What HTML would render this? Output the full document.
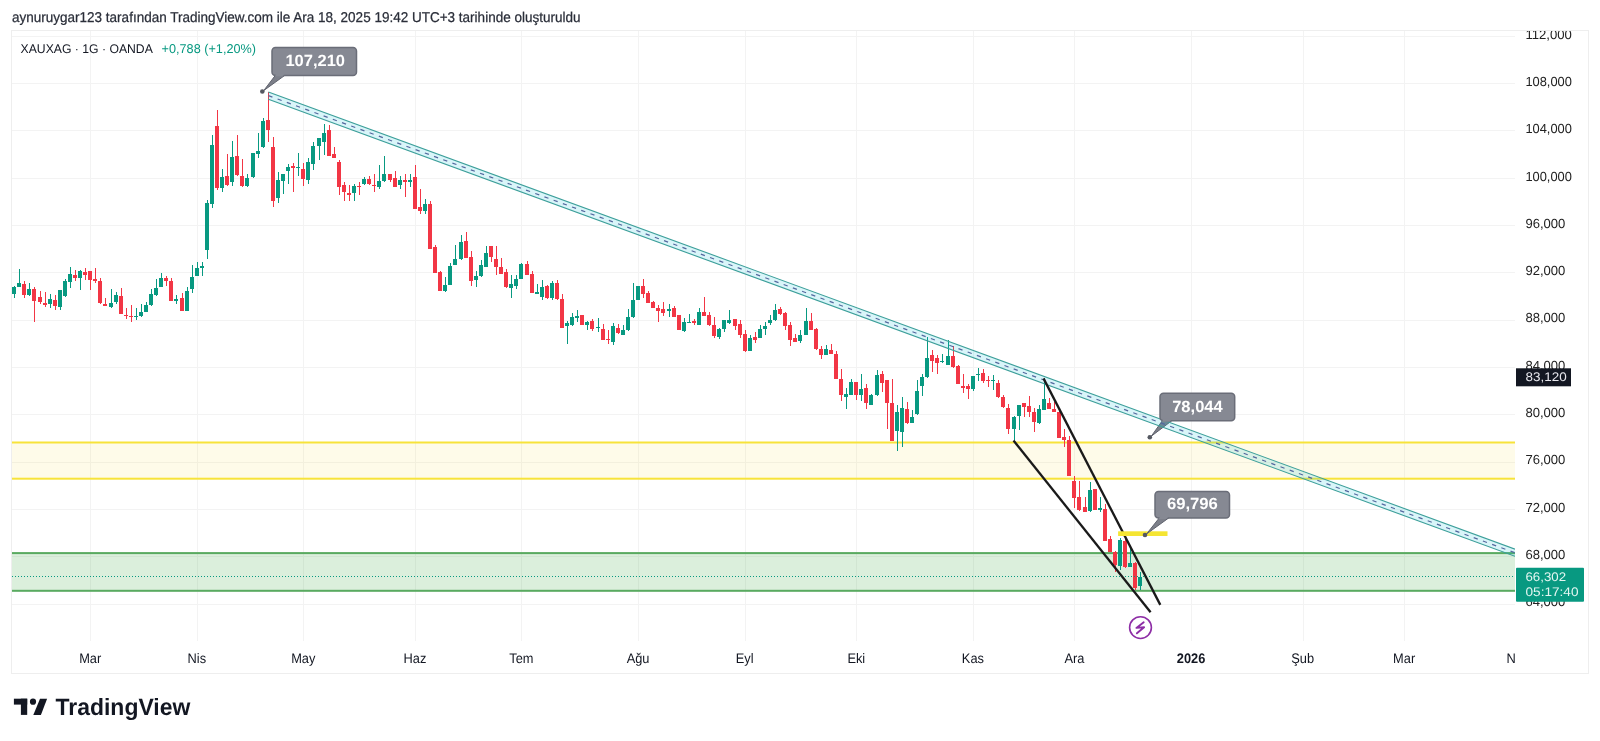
<!DOCTYPE html>
<html><head><meta charset="utf-8"><style>
html,body{margin:0;padding:0;background:#fff;width:1600px;height:741px;overflow:hidden}
svg{display:block;will-change:transform} text{text-rendering:geometricPrecision}
</style></head><body>
<svg width="1600" height="741" viewBox="0 0 1600 741">
<defs><clipPath id="axisclip"><rect x="1515" y="31" width="72" height="610"/></clipPath><clipPath id="paneclip"><rect x="12" y="31" width="1503" height="650"/></clipPath></defs>
<rect x="0" y="0" width="1600" height="741" fill="#fff"/>
<text id="hdr" x="12" y="22.2" font-family='"Liberation Sans", "DejaVu Sans", sans-serif' font-size="14.2" fill="#2a2e39" stroke="#2a2e39" stroke-width="0.25" textLength="568.5" lengthAdjust="spacingAndGlyphs">aynuruygar123 tarafından TradingView.com ile Ara 18, 2025 19:42 UTC+3 tarihinde oluşturuldu</text>
<rect x="11.5" y="30.5" width="1577" height="643" fill="none" stroke="#eeeeee" stroke-width="1"/>
<g clip-path="url(#paneclip)"><g stroke="#f3f3f3" stroke-width="1"><line x1="12" y1="604.5" x2="1515" y2="604.5"/><line x1="12" y1="556.5" x2="1515" y2="556.5"/><line x1="12" y1="509.5" x2="1515" y2="509.5"/><line x1="12" y1="462.5" x2="1515" y2="462.5"/><line x1="12" y1="414.5" x2="1515" y2="414.5"/><line x1="12" y1="367.5" x2="1515" y2="367.5"/><line x1="12" y1="320.5" x2="1515" y2="320.5"/><line x1="12" y1="272.5" x2="1515" y2="272.5"/><line x1="12" y1="225.5" x2="1515" y2="225.5"/><line x1="12" y1="178.5" x2="1515" y2="178.5"/><line x1="12" y1="130.5" x2="1515" y2="130.5"/><line x1="12" y1="83.5" x2="1515" y2="83.5"/><line x1="12" y1="36.5" x2="1515" y2="36.5"/><line x1="90.5" y1="31" x2="90.5" y2="641"/><line x1="197.5" y1="31" x2="197.5" y2="641"/><line x1="303.5" y1="31" x2="303.5" y2="641"/><line x1="415.5" y1="31" x2="415.5" y2="641"/><line x1="521.5" y1="31" x2="521.5" y2="641"/><line x1="638.5" y1="31" x2="638.5" y2="641"/><line x1="745.5" y1="31" x2="745.5" y2="641"/><line x1="856.5" y1="31" x2="856.5" y2="641"/><line x1="973.5" y1="31" x2="973.5" y2="641"/><line x1="1074.5" y1="31" x2="1074.5" y2="641"/><line x1="1191.5" y1="31" x2="1191.5" y2="641"/><line x1="1303.5" y1="31" x2="1303.5" y2="641"/><line x1="1404.5" y1="31" x2="1404.5" y2="641"/></g><rect x="12" y="442.5" width="1503" height="36.19999999999999" fill="#f9d923" fill-opacity="0.1"/><rect x="12" y="441.5" width="1503" height="2" fill="#f7e33a"/><rect x="12" y="477.7" width="1503" height="2" fill="#f7e33a"/><rect x="12" y="553.1" width="1503" height="37.69999999999993" fill="#4caf50" fill-opacity="0.2"/><rect x="12" y="552.1" width="1503" height="2" fill="#59aa60"/><rect x="12" y="589.8" width="1503" height="2" fill="#59aa60"/><g shape-rendering="crispEdges"><rect x="14" y="286" width="1" height="12" fill="#089981"/><rect x="12" y="287" width="4" height="7" fill="#089981"/><rect x="19" y="269" width="1" height="18" fill="#089981"/><rect x="17" y="283" width="4" height="4" fill="#089981"/><rect x="24" y="281" width="1" height="17" fill="#f23645"/><rect x="22" y="284" width="4" height="11" fill="#f23645"/><rect x="29" y="283" width="1" height="13" fill="#089981"/><rect x="27" y="289" width="4" height="6" fill="#089981"/><rect x="34" y="287" width="1" height="35" fill="#f23645"/><rect x="32" y="289" width="4" height="12" fill="#f23645"/><rect x="40" y="291" width="1" height="13" fill="#f23645"/><rect x="38" y="297" width="4" height="5" fill="#f23645"/><rect x="45" y="292" width="1" height="15" fill="#f23645"/><rect x="43" y="303" width="4" height="2" fill="#f23645"/><rect x="50" y="294" width="1" height="14" fill="#089981"/><rect x="48" y="299" width="4" height="5" fill="#089981"/><rect x="55" y="295" width="1" height="15" fill="#f23645"/><rect x="53" y="300" width="4" height="6" fill="#f23645"/><rect x="60" y="290" width="1" height="20" fill="#089981"/><rect x="58" y="290" width="4" height="17" fill="#089981"/><rect x="65" y="279" width="1" height="18" fill="#089981"/><rect x="63" y="281" width="4" height="15" fill="#089981"/><rect x="70" y="267" width="1" height="21" fill="#089981"/><rect x="68" y="274" width="4" height="8" fill="#089981"/><rect x="75" y="270" width="1" height="11" fill="#f23645"/><rect x="73" y="275" width="4" height="3" fill="#f23645"/><rect x="80" y="270" width="1" height="20" fill="#089981"/><rect x="78" y="271" width="4" height="7" fill="#089981"/><rect x="85" y="268" width="1" height="12" fill="#f23645"/><rect x="83" y="272" width="4" height="3" fill="#f23645"/><rect x="90" y="271" width="1" height="19" fill="#f23645"/><rect x="88" y="271" width="4" height="9" fill="#f23645"/><rect x="95" y="268" width="1" height="15" fill="#f23645"/><rect x="93" y="279" width="4" height="2" fill="#f23645"/><rect x="100" y="278" width="1" height="26" fill="#f23645"/><rect x="98" y="281" width="4" height="22" fill="#f23645"/><rect x="105" y="298" width="1" height="8" fill="#f23645"/><rect x="103" y="304" width="4" height="2" fill="#f23645"/><rect x="111" y="289" width="1" height="19" fill="#089981"/><rect x="109" y="303" width="4" height="4" fill="#089981"/><rect x="116" y="292" width="1" height="12" fill="#089981"/><rect x="114" y="295" width="4" height="7" fill="#089981"/><rect x="121" y="288" width="1" height="26" fill="#f23645"/><rect x="119" y="296" width="4" height="18" fill="#f23645"/><rect x="126" y="308" width="1" height="11" fill="#f23645"/><rect x="124" y="315" width="4" height="1" fill="#f23645"/><rect x="131" y="305" width="1" height="17" fill="#f23645"/><rect x="129" y="316" width="4" height="1" fill="#f23645"/><rect x="136" y="308" width="1" height="12" fill="#089981"/><rect x="134" y="316" width="4" height="1" fill="#089981"/><rect x="141" y="304" width="1" height="13" fill="#089981"/><rect x="139" y="312" width="4" height="4" fill="#089981"/><rect x="146" y="302" width="1" height="10" fill="#089981"/><rect x="144" y="305" width="4" height="7" fill="#089981"/><rect x="151" y="289" width="1" height="17" fill="#089981"/><rect x="149" y="294" width="4" height="11" fill="#089981"/><rect x="156" y="279" width="1" height="17" fill="#089981"/><rect x="154" y="288" width="4" height="7" fill="#089981"/><rect x="161" y="273" width="1" height="14" fill="#089981"/><rect x="159" y="278" width="4" height="9" fill="#089981"/><rect x="166" y="276" width="1" height="10" fill="#f23645"/><rect x="164" y="278" width="4" height="3" fill="#f23645"/><rect x="171" y="278" width="1" height="23" fill="#f23645"/><rect x="169" y="281" width="4" height="20" fill="#f23645"/><rect x="176" y="295" width="1" height="9" fill="#089981"/><rect x="174" y="299" width="4" height="2" fill="#089981"/><rect x="182" y="293" width="1" height="18" fill="#f23645"/><rect x="180" y="298" width="4" height="13" fill="#f23645"/><rect x="187" y="287" width="1" height="24" fill="#089981"/><rect x="185" y="291" width="4" height="20" fill="#089981"/><rect x="192" y="265" width="1" height="28" fill="#089981"/><rect x="190" y="277" width="4" height="12" fill="#089981"/><rect x="197" y="262" width="1" height="14" fill="#089981"/><rect x="195" y="268" width="4" height="8" fill="#089981"/><rect x="202" y="262" width="1" height="14" fill="#089981"/><rect x="200" y="266" width="4" height="2" fill="#089981"/><rect x="207" y="200" width="1" height="59" fill="#089981"/><rect x="205" y="203" width="4" height="47" fill="#089981"/><rect x="212" y="135" width="1" height="73" fill="#089981"/><rect x="210" y="145" width="4" height="59" fill="#089981"/><rect x="217" y="110" width="1" height="80" fill="#f23645"/><rect x="215" y="126" width="4" height="62" fill="#f23645"/><rect x="222" y="169" width="1" height="23" fill="#089981"/><rect x="220" y="177" width="4" height="11" fill="#089981"/><rect x="227" y="154" width="1" height="32" fill="#f23645"/><rect x="225" y="176" width="4" height="9" fill="#f23645"/><rect x="232" y="141" width="1" height="45" fill="#089981"/><rect x="230" y="157" width="4" height="25" fill="#089981"/><rect x="237" y="135" width="1" height="41" fill="#f23645"/><rect x="235" y="156" width="4" height="19" fill="#f23645"/><rect x="242" y="159" width="1" height="28" fill="#f23645"/><rect x="240" y="176" width="4" height="10" fill="#f23645"/><rect x="247" y="174" width="1" height="13" fill="#089981"/><rect x="245" y="178" width="4" height="8" fill="#089981"/><rect x="253" y="153" width="1" height="25" fill="#089981"/><rect x="251" y="153" width="4" height="24" fill="#089981"/><rect x="258" y="133" width="1" height="25" fill="#089981"/><rect x="256" y="151" width="4" height="3" fill="#089981"/><rect x="263" y="118" width="1" height="30" fill="#089981"/><rect x="261" y="121" width="4" height="26" fill="#089981"/><rect x="268" y="92" width="1" height="50" fill="#f23645"/><rect x="266" y="120" width="4" height="10" fill="#f23645"/><rect x="273" y="137" width="1" height="70" fill="#f23645"/><rect x="271" y="147" width="4" height="54" fill="#f23645"/><rect x="278" y="172" width="1" height="31" fill="#089981"/><rect x="276" y="180" width="4" height="18" fill="#089981"/><rect x="283" y="174" width="1" height="20" fill="#089981"/><rect x="281" y="174" width="4" height="7" fill="#089981"/><rect x="288" y="164" width="1" height="20" fill="#089981"/><rect x="286" y="167" width="4" height="4" fill="#089981"/><rect x="293" y="163" width="1" height="29" fill="#f23645"/><rect x="291" y="166" width="4" height="2" fill="#f23645"/><rect x="298" y="153" width="1" height="23" fill="#089981"/><rect x="296" y="167" width="4" height="1" fill="#089981"/><rect x="303" y="163" width="1" height="23" fill="#f23645"/><rect x="301" y="169" width="4" height="10" fill="#f23645"/><rect x="308" y="158" width="1" height="26" fill="#089981"/><rect x="306" y="162" width="4" height="18" fill="#089981"/><rect x="313" y="142" width="1" height="28" fill="#089981"/><rect x="311" y="146" width="4" height="18" fill="#089981"/><rect x="319" y="138" width="1" height="22" fill="#089981"/><rect x="317" y="138" width="4" height="8" fill="#089981"/><rect x="324" y="124" width="1" height="31" fill="#089981"/><rect x="322" y="133" width="4" height="9" fill="#089981"/><rect x="329" y="125" width="1" height="31" fill="#f23645"/><rect x="327" y="130" width="4" height="26" fill="#f23645"/><rect x="334" y="147" width="1" height="11" fill="#f23645"/><rect x="332" y="154" width="4" height="4" fill="#f23645"/><rect x="339" y="160" width="1" height="35" fill="#f23645"/><rect x="337" y="162" width="4" height="25" fill="#f23645"/><rect x="344" y="182" width="1" height="19" fill="#f23645"/><rect x="342" y="185" width="4" height="7" fill="#f23645"/><rect x="349" y="185" width="1" height="16" fill="#f23645"/><rect x="347" y="193" width="4" height="2" fill="#f23645"/><rect x="354" y="184" width="1" height="17" fill="#089981"/><rect x="352" y="186" width="4" height="7" fill="#089981"/><rect x="359" y="182" width="1" height="13" fill="#f23645"/><rect x="357" y="186" width="4" height="1" fill="#f23645"/><rect x="364" y="177" width="1" height="8" fill="#089981"/><rect x="362" y="179" width="4" height="5" fill="#089981"/><rect x="369" y="176" width="1" height="9" fill="#f23645"/><rect x="367" y="179" width="4" height="5" fill="#f23645"/><rect x="374" y="174" width="1" height="18" fill="#f23645"/><rect x="372" y="185" width="4" height="1" fill="#f23645"/><rect x="379" y="165" width="1" height="24" fill="#089981"/><rect x="377" y="181" width="4" height="6" fill="#089981"/><rect x="384" y="156" width="1" height="26" fill="#089981"/><rect x="382" y="174" width="4" height="7" fill="#089981"/><rect x="390" y="174" width="1" height="8" fill="#f23645"/><rect x="388" y="174" width="4" height="6" fill="#f23645"/><rect x="395" y="171" width="1" height="16" fill="#f23645"/><rect x="393" y="178" width="4" height="9" fill="#f23645"/><rect x="400" y="176" width="1" height="13" fill="#089981"/><rect x="398" y="180" width="4" height="5" fill="#089981"/><rect x="405" y="174" width="1" height="23" fill="#f23645"/><rect x="403" y="180" width="4" height="2" fill="#f23645"/><rect x="410" y="174" width="1" height="13" fill="#089981"/><rect x="408" y="180" width="4" height="2" fill="#089981"/><rect x="415" y="165" width="1" height="44" fill="#f23645"/><rect x="413" y="177" width="4" height="32" fill="#f23645"/><rect x="420" y="189" width="1" height="25" fill="#f23645"/><rect x="418" y="207" width="4" height="4" fill="#f23645"/><rect x="425" y="199" width="1" height="15" fill="#089981"/><rect x="423" y="204" width="4" height="7" fill="#089981"/><rect x="430" y="201" width="1" height="48" fill="#f23645"/><rect x="428" y="204" width="4" height="45" fill="#f23645"/><rect x="435" y="245" width="1" height="28" fill="#f23645"/><rect x="433" y="247" width="4" height="26" fill="#f23645"/><rect x="440" y="271" width="1" height="20" fill="#f23645"/><rect x="438" y="272" width="4" height="19" fill="#f23645"/><rect x="445" y="277" width="1" height="15" fill="#089981"/><rect x="443" y="285" width="4" height="6" fill="#089981"/><rect x="450" y="263" width="1" height="22" fill="#089981"/><rect x="448" y="266" width="4" height="19" fill="#089981"/><rect x="455" y="245" width="1" height="20" fill="#089981"/><rect x="453" y="259" width="4" height="6" fill="#089981"/><rect x="461" y="235" width="1" height="25" fill="#089981"/><rect x="459" y="242" width="4" height="17" fill="#089981"/><rect x="466" y="232" width="1" height="26" fill="#f23645"/><rect x="464" y="241" width="4" height="17" fill="#f23645"/><rect x="471" y="251" width="1" height="35" fill="#f23645"/><rect x="469" y="257" width="4" height="24" fill="#f23645"/><rect x="476" y="271" width="1" height="16" fill="#089981"/><rect x="474" y="276" width="4" height="4" fill="#089981"/><rect x="481" y="260" width="1" height="17" fill="#089981"/><rect x="479" y="265" width="4" height="11" fill="#089981"/><rect x="486" y="246" width="1" height="21" fill="#089981"/><rect x="484" y="253" width="4" height="14" fill="#089981"/><rect x="491" y="246" width="1" height="16" fill="#f23645"/><rect x="489" y="246" width="4" height="11" fill="#f23645"/><rect x="496" y="246" width="1" height="29" fill="#f23645"/><rect x="494" y="259" width="4" height="8" fill="#f23645"/><rect x="501" y="258" width="1" height="16" fill="#f23645"/><rect x="499" y="267" width="4" height="7" fill="#f23645"/><rect x="506" y="269" width="1" height="19" fill="#f23645"/><rect x="504" y="272" width="4" height="15" fill="#f23645"/><rect x="511" y="275" width="1" height="23" fill="#089981"/><rect x="509" y="284" width="4" height="4" fill="#089981"/><rect x="516" y="275" width="1" height="14" fill="#089981"/><rect x="514" y="279" width="4" height="7" fill="#089981"/><rect x="521" y="263" width="1" height="16" fill="#089981"/><rect x="519" y="264" width="4" height="15" fill="#089981"/><rect x="527" y="261" width="1" height="14" fill="#f23645"/><rect x="525" y="264" width="4" height="11" fill="#f23645"/><rect x="532" y="271" width="1" height="22" fill="#f23645"/><rect x="530" y="274" width="4" height="19" fill="#f23645"/><rect x="537" y="284" width="1" height="10" fill="#089981"/><rect x="535" y="292" width="4" height="2" fill="#089981"/><rect x="542" y="280" width="1" height="20" fill="#089981"/><rect x="540" y="287" width="4" height="10" fill="#089981"/><rect x="547" y="285" width="1" height="14" fill="#f23645"/><rect x="545" y="286" width="4" height="12" fill="#f23645"/><rect x="552" y="281" width="1" height="19" fill="#089981"/><rect x="550" y="283" width="4" height="15" fill="#089981"/><rect x="557" y="280" width="1" height="20" fill="#f23645"/><rect x="555" y="283" width="4" height="16" fill="#f23645"/><rect x="562" y="294" width="1" height="34" fill="#f23645"/><rect x="560" y="299" width="4" height="29" fill="#f23645"/><rect x="567" y="321" width="1" height="23" fill="#089981"/><rect x="565" y="323" width="4" height="3" fill="#089981"/><rect x="572" y="313" width="1" height="13" fill="#089981"/><rect x="570" y="317" width="4" height="8" fill="#089981"/><rect x="577" y="310" width="1" height="12" fill="#089981"/><rect x="575" y="316" width="4" height="2" fill="#089981"/><rect x="582" y="315" width="1" height="10" fill="#f23645"/><rect x="580" y="315" width="4" height="10" fill="#f23645"/><rect x="587" y="321" width="1" height="9" fill="#089981"/><rect x="585" y="322" width="4" height="3" fill="#089981"/><rect x="592" y="319" width="1" height="12" fill="#f23645"/><rect x="590" y="321" width="4" height="8" fill="#f23645"/><rect x="598" y="318" width="1" height="14" fill="#089981"/><rect x="596" y="327" width="4" height="1" fill="#089981"/><rect x="603" y="324" width="1" height="16" fill="#f23645"/><rect x="601" y="329" width="4" height="11" fill="#f23645"/><rect x="608" y="330" width="1" height="14" fill="#f23645"/><rect x="606" y="339" width="4" height="1" fill="#f23645"/><rect x="613" y="323" width="1" height="22" fill="#089981"/><rect x="611" y="326" width="4" height="16" fill="#089981"/><rect x="618" y="324" width="1" height="10" fill="#f23645"/><rect x="616" y="328" width="4" height="5" fill="#f23645"/><rect x="623" y="325" width="1" height="10" fill="#089981"/><rect x="621" y="330" width="4" height="5" fill="#089981"/><rect x="628" y="309" width="1" height="22" fill="#089981"/><rect x="626" y="317" width="4" height="13" fill="#089981"/><rect x="633" y="283" width="1" height="35" fill="#089981"/><rect x="631" y="300" width="4" height="17" fill="#089981"/><rect x="638" y="286" width="1" height="14" fill="#089981"/><rect x="636" y="286" width="4" height="14" fill="#089981"/><rect x="643" y="279" width="1" height="19" fill="#f23645"/><rect x="641" y="286" width="4" height="8" fill="#f23645"/><rect x="648" y="291" width="1" height="12" fill="#f23645"/><rect x="646" y="293" width="4" height="10" fill="#f23645"/><rect x="653" y="301" width="1" height="7" fill="#f23645"/><rect x="651" y="302" width="4" height="6" fill="#f23645"/><rect x="658" y="305" width="1" height="17" fill="#f23645"/><rect x="656" y="308" width="4" height="3" fill="#f23645"/><rect x="663" y="302" width="1" height="14" fill="#f23645"/><rect x="661" y="309" width="4" height="4" fill="#f23645"/><rect x="669" y="304" width="1" height="13" fill="#089981"/><rect x="667" y="309" width="4" height="2" fill="#089981"/><rect x="674" y="306" width="1" height="11" fill="#f23645"/><rect x="672" y="308" width="4" height="9" fill="#f23645"/><rect x="679" y="315" width="1" height="15" fill="#f23645"/><rect x="677" y="315" width="4" height="15" fill="#f23645"/><rect x="684" y="318" width="1" height="14" fill="#089981"/><rect x="682" y="322" width="4" height="9" fill="#089981"/><rect x="689" y="314" width="1" height="9" fill="#089981"/><rect x="687" y="322" width="4" height="1" fill="#089981"/><rect x="694" y="319" width="1" height="6" fill="#f23645"/><rect x="692" y="321" width="4" height="2" fill="#f23645"/><rect x="699" y="308" width="1" height="17" fill="#089981"/><rect x="697" y="312" width="4" height="13" fill="#089981"/><rect x="704" y="297" width="1" height="19" fill="#f23645"/><rect x="702" y="312" width="4" height="4" fill="#f23645"/><rect x="709" y="312" width="1" height="14" fill="#f23645"/><rect x="707" y="315" width="4" height="10" fill="#f23645"/><rect x="714" y="317" width="1" height="21" fill="#f23645"/><rect x="712" y="325" width="4" height="11" fill="#f23645"/><rect x="719" y="328" width="1" height="11" fill="#089981"/><rect x="717" y="329" width="4" height="8" fill="#089981"/><rect x="724" y="320" width="1" height="12" fill="#089981"/><rect x="722" y="320" width="4" height="9" fill="#089981"/><rect x="729" y="310" width="1" height="14" fill="#089981"/><rect x="727" y="320" width="4" height="3" fill="#089981"/><rect x="735" y="319" width="1" height="11" fill="#f23645"/><rect x="733" y="319" width="4" height="7" fill="#f23645"/><rect x="740" y="320" width="1" height="18" fill="#f23645"/><rect x="738" y="324" width="4" height="11" fill="#f23645"/><rect x="745" y="330" width="1" height="22" fill="#f23645"/><rect x="743" y="334" width="4" height="17" fill="#f23645"/><rect x="750" y="335" width="1" height="16" fill="#089981"/><rect x="748" y="338" width="4" height="13" fill="#089981"/><rect x="755" y="332" width="1" height="11" fill="#f23645"/><rect x="753" y="337" width="4" height="3" fill="#f23645"/><rect x="760" y="325" width="1" height="13" fill="#089981"/><rect x="758" y="329" width="4" height="9" fill="#089981"/><rect x="765" y="322" width="1" height="13" fill="#089981"/><rect x="763" y="326" width="4" height="3" fill="#089981"/><rect x="770" y="315" width="1" height="10" fill="#089981"/><rect x="768" y="320" width="4" height="3" fill="#089981"/><rect x="775" y="304" width="1" height="17" fill="#089981"/><rect x="773" y="310" width="4" height="10" fill="#089981"/><rect x="780" y="307" width="1" height="8" fill="#f23645"/><rect x="778" y="309" width="4" height="5" fill="#f23645"/><rect x="785" y="312" width="1" height="18" fill="#f23645"/><rect x="783" y="313" width="4" height="13" fill="#f23645"/><rect x="790" y="322" width="1" height="24" fill="#f23645"/><rect x="788" y="325" width="4" height="15" fill="#f23645"/><rect x="795" y="334" width="1" height="8" fill="#f23645"/><rect x="793" y="338" width="4" height="4" fill="#f23645"/><rect x="800" y="330" width="1" height="13" fill="#089981"/><rect x="798" y="335" width="4" height="6" fill="#089981"/><rect x="806" y="308" width="1" height="27" fill="#089981"/><rect x="804" y="321" width="4" height="14" fill="#089981"/><rect x="811" y="313" width="1" height="17" fill="#f23645"/><rect x="809" y="321" width="4" height="9" fill="#f23645"/><rect x="816" y="328" width="1" height="22" fill="#f23645"/><rect x="814" y="329" width="4" height="20" fill="#f23645"/><rect x="821" y="346" width="1" height="13" fill="#f23645"/><rect x="819" y="349" width="4" height="6" fill="#f23645"/><rect x="826" y="345" width="1" height="10" fill="#089981"/><rect x="824" y="349" width="4" height="6" fill="#089981"/><rect x="831" y="344" width="1" height="10" fill="#f23645"/><rect x="829" y="350" width="4" height="4" fill="#f23645"/><rect x="836" y="351" width="1" height="28" fill="#f23645"/><rect x="834" y="354" width="4" height="25" fill="#f23645"/><rect x="841" y="369" width="1" height="32" fill="#f23645"/><rect x="839" y="379" width="4" height="16" fill="#f23645"/><rect x="846" y="388" width="1" height="21" fill="#089981"/><rect x="844" y="394" width="4" height="3" fill="#089981"/><rect x="851" y="379" width="1" height="16" fill="#089981"/><rect x="849" y="382" width="4" height="13" fill="#089981"/><rect x="856" y="382" width="1" height="18" fill="#f23645"/><rect x="854" y="382" width="4" height="13" fill="#f23645"/><rect x="861" y="374" width="1" height="27" fill="#089981"/><rect x="859" y="389" width="4" height="6" fill="#089981"/><rect x="866" y="384" width="1" height="25" fill="#f23645"/><rect x="864" y="388" width="4" height="15" fill="#f23645"/><rect x="871" y="394" width="1" height="11" fill="#089981"/><rect x="869" y="395" width="4" height="10" fill="#089981"/><rect x="877" y="370" width="1" height="26" fill="#089981"/><rect x="875" y="375" width="4" height="20" fill="#089981"/><rect x="882" y="371" width="1" height="21" fill="#f23645"/><rect x="880" y="374" width="4" height="9" fill="#f23645"/><rect x="887" y="380" width="1" height="49" fill="#f23645"/><rect x="885" y="380" width="4" height="23" fill="#f23645"/><rect x="892" y="379" width="1" height="62" fill="#f23645"/><rect x="890" y="403" width="4" height="38" fill="#f23645"/><rect x="897" y="405" width="1" height="46" fill="#089981"/><rect x="895" y="412" width="4" height="19" fill="#089981"/><rect x="902" y="397" width="1" height="50" fill="#089981"/><rect x="900" y="408" width="4" height="24" fill="#089981"/><rect x="907" y="402" width="1" height="22" fill="#f23645"/><rect x="905" y="409" width="4" height="14" fill="#f23645"/><rect x="912" y="410" width="1" height="13" fill="#089981"/><rect x="910" y="417" width="4" height="6" fill="#089981"/><rect x="917" y="380" width="1" height="35" fill="#089981"/><rect x="915" y="391" width="4" height="23" fill="#089981"/><rect x="922" y="374" width="1" height="22" fill="#089981"/><rect x="920" y="377" width="4" height="9" fill="#089981"/><rect x="927" y="337" width="1" height="41" fill="#089981"/><rect x="925" y="358" width="4" height="19" fill="#089981"/><rect x="932" y="350" width="1" height="22" fill="#f23645"/><rect x="930" y="355" width="4" height="6" fill="#f23645"/><rect x="937" y="355" width="1" height="19" fill="#f23645"/><rect x="935" y="358" width="4" height="5" fill="#f23645"/><rect x="942" y="354" width="1" height="9" fill="#089981"/><rect x="940" y="361" width="4" height="1" fill="#089981"/><rect x="948" y="340" width="1" height="25" fill="#089981"/><rect x="946" y="356" width="4" height="9" fill="#089981"/><rect x="953" y="346" width="1" height="22" fill="#f23645"/><rect x="951" y="356" width="4" height="11" fill="#f23645"/><rect x="958" y="365" width="1" height="19" fill="#f23645"/><rect x="956" y="366" width="4" height="18" fill="#f23645"/><rect x="963" y="374" width="1" height="19" fill="#f23645"/><rect x="961" y="386" width="4" height="2" fill="#f23645"/><rect x="968" y="384" width="1" height="15" fill="#f23645"/><rect x="966" y="386" width="4" height="3" fill="#f23645"/><rect x="973" y="376" width="1" height="15" fill="#089981"/><rect x="971" y="376" width="4" height="13" fill="#089981"/><rect x="978" y="368" width="1" height="13" fill="#089981"/><rect x="976" y="374" width="4" height="1" fill="#089981"/><rect x="983" y="369" width="1" height="14" fill="#f23645"/><rect x="981" y="373" width="4" height="8" fill="#f23645"/><rect x="988" y="376" width="1" height="11" fill="#f23645"/><rect x="986" y="380" width="4" height="1" fill="#f23645"/><rect x="993" y="375" width="1" height="15" fill="#089981"/><rect x="991" y="380" width="4" height="1" fill="#089981"/><rect x="998" y="380" width="1" height="18" fill="#f23645"/><rect x="996" y="383" width="4" height="14" fill="#f23645"/><rect x="1003" y="395" width="1" height="13" fill="#f23645"/><rect x="1001" y="397" width="4" height="10" fill="#f23645"/><rect x="1008" y="404" width="1" height="30" fill="#f23645"/><rect x="1006" y="408" width="4" height="21" fill="#f23645"/><rect x="1014" y="416" width="1" height="24" fill="#089981"/><rect x="1012" y="417" width="4" height="12" fill="#089981"/><rect x="1019" y="405" width="1" height="25" fill="#089981"/><rect x="1017" y="405" width="4" height="11" fill="#089981"/><rect x="1024" y="403" width="1" height="14" fill="#f23645"/><rect x="1022" y="403" width="4" height="4" fill="#f23645"/><rect x="1029" y="396" width="1" height="21" fill="#f23645"/><rect x="1027" y="406" width="4" height="6" fill="#f23645"/><rect x="1034" y="408" width="1" height="24" fill="#f23645"/><rect x="1032" y="412" width="4" height="10" fill="#f23645"/><rect x="1039" y="405" width="1" height="19" fill="#089981"/><rect x="1037" y="409" width="4" height="14" fill="#089981"/><rect x="1044" y="378" width="1" height="32" fill="#089981"/><rect x="1042" y="399" width="4" height="11" fill="#089981"/><rect x="1049" y="398" width="1" height="11" fill="#f23645"/><rect x="1047" y="403" width="4" height="6" fill="#f23645"/><rect x="1054" y="402" width="1" height="10" fill="#f23645"/><rect x="1052" y="409" width="4" height="3" fill="#f23645"/><rect x="1059" y="411" width="1" height="27" fill="#f23645"/><rect x="1057" y="412" width="4" height="26" fill="#f23645"/><rect x="1064" y="429" width="1" height="18" fill="#f23645"/><rect x="1062" y="437" width="4" height="3" fill="#f23645"/><rect x="1069" y="436" width="1" height="40" fill="#f23645"/><rect x="1067" y="440" width="4" height="36" fill="#f23645"/><rect x="1074" y="476" width="1" height="32" fill="#f23645"/><rect x="1072" y="481" width="4" height="17" fill="#f23645"/><rect x="1079" y="481" width="1" height="30" fill="#f23645"/><rect x="1077" y="497" width="4" height="13" fill="#f23645"/><rect x="1085" y="497" width="1" height="15" fill="#f23645"/><rect x="1083" y="507" width="4" height="5" fill="#f23645"/><rect x="1090" y="482" width="1" height="30" fill="#089981"/><rect x="1088" y="490" width="4" height="21" fill="#089981"/><rect x="1095" y="489" width="1" height="21" fill="#f23645"/><rect x="1093" y="489" width="4" height="21" fill="#f23645"/><rect x="1100" y="497" width="1" height="15" fill="#089981"/><rect x="1098" y="508" width="4" height="2" fill="#089981"/><rect x="1105" y="504" width="1" height="37" fill="#f23645"/><rect x="1103" y="509" width="4" height="32" fill="#f23645"/><rect x="1110" y="536" width="1" height="16" fill="#f23645"/><rect x="1108" y="539" width="4" height="13" fill="#f23645"/><rect x="1115" y="551" width="1" height="21" fill="#f23645"/><rect x="1113" y="552" width="4" height="13" fill="#f23645"/><rect x="1120" y="538" width="1" height="32" fill="#089981"/><rect x="1118" y="540" width="4" height="26" fill="#089981"/><rect x="1125" y="536" width="1" height="32" fill="#f23645"/><rect x="1123" y="541" width="4" height="26" fill="#f23645"/><rect x="1130" y="547" width="1" height="20" fill="#089981"/><rect x="1128" y="563" width="4" height="4" fill="#089981"/><rect x="1135" y="562" width="1" height="28" fill="#f23645"/><rect x="1133" y="563" width="4" height="25" fill="#f23645"/><rect x="1140" y="572" width="1" height="18" fill="#089981"/><rect x="1138" y="577" width="4" height="9" fill="#089981"/></g><line x1="12" y1="576.5" x2="1515" y2="576.5" stroke="#089981" stroke-width="1" stroke-dasharray="1 2"/><polygon points="1163,419.8 1173,419.8 1151.3,436.2" fill="#7c7f89" stroke="#5f626d" stroke-width="1"/><circle cx="1149.8" cy="437.2" r="2.3" fill="#555861"/><polygon points="268.4,92.0 1515,549.12822 1515,556.3282200000001 268.4,99.2" fill="#00bcd4" fill-opacity="0.15"/><line x1="268.4" y1="92.0" x2="1515" y2="549.12822" stroke="#3c9f9a" stroke-width="1.1"/><line x1="268.4" y1="99.2" x2="1515" y2="556.3282200000001" stroke="#3c9f9a" stroke-width="1.1"/><line x1="268.4" y1="95.6" x2="1515" y2="552.7282200000001" stroke="#55679e" stroke-width="1.2" stroke-dasharray="4.3 5.5"/><line x1="1043.5" y1="378.4" x2="1160.3" y2="604.9" stroke="#1a1a1a" stroke-width="2.3"/><line x1="1013.5" y1="440.5" x2="1150.6" y2="612.2" stroke="#1a1a1a" stroke-width="2.3"/><rect x="1118.1" y="531.3" width="49.4" height="4.7" fill="#f5e532"/><polygon points="276,74.5 286,74.5 263.8,90.5" fill="#7c7f89" stroke="#5f626d" stroke-width="1"/><circle cx="262.3" cy="91.5" r="2.3" fill="#555861"/><polygon points="1160,517 1170,517 1146.5,534" fill="#7c7f89" stroke="#5f626d" stroke-width="1"/><circle cx="1145" cy="535" r="2.3" fill="#555861"/><rect x="272" y="47.5" width="84.5" height="28.0" rx="3.5" fill="#868993" stroke="#6a6d78" stroke-width="1.5"/><polygon points="276.6,73.0 285.4,73.0 282.556,76.5 274.956,76.5" fill="#868993"/><text x="285.4" y="66" textLength="59.60000000000002" lengthAdjust="spacingAndGlyphs" font-family='"Liberation Sans", "DejaVu Sans", sans-serif' font-weight="bold" font-size="16.2" fill="#fff">107,210</text><rect x="1160" y="393.3" width="74.70000000000005" height="27.5" rx="3.5" fill="#868993" stroke="#6a6d78" stroke-width="1.5"/><polygon points="1163.6,418.3 1172.4,418.3 1169.616,421.8 1162.0159999999998,421.8" fill="#868993"/><text x="1172.2" y="411.6" textLength="50.5" lengthAdjust="spacingAndGlyphs" font-family='"Liberation Sans", "DejaVu Sans", sans-serif' font-weight="bold" font-size="16.2" fill="#fff">78,044</text><rect x="1155" y="491.5" width="74.5" height="26.5" rx="3.5" fill="#868993" stroke="#6a6d78" stroke-width="1.5"/><polygon points="1160.6,515.5 1169.4,515.5 1166.4,519 1158.8,519" fill="#868993"/><text x="1166.9" y="508.9" textLength="51.0" lengthAdjust="spacingAndGlyphs" font-family='"Liberation Sans", "DejaVu Sans", sans-serif' font-weight="bold" font-size="16.2" fill="#fff">69,796</text><circle cx="1140.5" cy="627.6" r="10.9" fill="#fff" stroke="#8e2ea6" stroke-width="1.6"/><polyline points="1143.7,622.3 1136.4,627.9 1144.1,627.3 1136.9,633.3" fill="none" stroke="#8e2ea6" stroke-width="1.9" stroke-linejoin="round" stroke-linecap="round"/></g>
<text id="legend" x="20.6" y="52.5" font-family='"Liberation Sans", "DejaVu Sans", sans-serif' font-size="12.6" fill="#131722" textLength="132.2" lengthAdjust="spacingAndGlyphs">XAUXAG · 1G · OANDA</text><text id="legend2" x="161.6" y="52.5" font-family='"Liberation Sans", "DejaVu Sans", sans-serif' font-size="12.8" fill="#089981" textLength="94.4" lengthAdjust="spacingAndGlyphs">+0,788 (+1,20%)</text>
<g font-family='"Liberation Sans", "DejaVu Sans", sans-serif' font-size="13.2" fill="#222" clip-path="url(#axisclip)"><text x="1525.4" y="606.4" textLength="40" lengthAdjust="spacingAndGlyphs">64,000</text><text x="1525.4" y="559.1" textLength="40" lengthAdjust="spacingAndGlyphs">68,000</text><text x="1525.4" y="511.8" textLength="40" lengthAdjust="spacingAndGlyphs">72,000</text><text x="1525.4" y="464.4" textLength="40" lengthAdjust="spacingAndGlyphs">76,000</text><text x="1525.4" y="417.1" textLength="40" lengthAdjust="spacingAndGlyphs">80,000</text><text x="1525.4" y="369.8" textLength="40" lengthAdjust="spacingAndGlyphs">84,000</text><text x="1525.4" y="322.4" textLength="40" lengthAdjust="spacingAndGlyphs">88,000</text><text x="1525.4" y="275.1" textLength="40" lengthAdjust="spacingAndGlyphs">92,000</text><text x="1525.4" y="227.8" textLength="40" lengthAdjust="spacingAndGlyphs">96,000</text><text x="1525.4" y="180.5" textLength="46.5" lengthAdjust="spacingAndGlyphs">100,000</text><text x="1525.4" y="133.1" textLength="46.5" lengthAdjust="spacingAndGlyphs">104,000</text><text x="1525.4" y="85.8" textLength="46.5" lengthAdjust="spacingAndGlyphs">108,000</text><text x="1525.4" y="38.5" textLength="46.5" lengthAdjust="spacingAndGlyphs">112,000</text></g>
<rect x="1516" y="368.3" width="55" height="18" fill="#131722"/>
<text x="1525.6" y="381.2" textLength="41.2" lengthAdjust="spacingAndGlyphs" font-family='"Liberation Sans", "DejaVu Sans", sans-serif' font-size="12.5" fill="#e8e8ee">83,120</text>
<rect x="1516" y="567.7" width="68" height="34" rx="1" fill="#089981"/>
<text x="1525.5" y="580.6" textLength="40.5" lengthAdjust="spacingAndGlyphs" font-family='"Liberation Sans", "DejaVu Sans", sans-serif' font-size="12.5" fill="#e3f6f1">66,302</text>
<text x="1525.5" y="595.7" textLength="53" lengthAdjust="spacingAndGlyphs" font-family='"Liberation Sans", "DejaVu Sans", sans-serif' font-size="12.5" fill="#e3f6f1">05:17:40</text>
<g font-family='"Liberation Sans", "DejaVu Sans", sans-serif' font-size="13.8" fill="#131722"><text transform="translate(90.2,662.8) scale(0.93,1)" text-anchor="middle">Mar</text><text transform="translate(196.8,662.8) scale(0.93,1)" text-anchor="middle">Nis</text><text transform="translate(303.3,662.8) scale(0.93,1)" text-anchor="middle">May</text><text transform="translate(414.9,662.8) scale(0.93,1)" text-anchor="middle">Haz</text><text transform="translate(521.4,662.8) scale(0.93,1)" text-anchor="middle">Tem</text><text transform="translate(638.1,662.8) scale(0.93,1)" text-anchor="middle">Ağu</text><text transform="translate(744.7,662.8) scale(0.93,1)" text-anchor="middle">Eyl</text><text transform="translate(856.3,662.8) scale(0.93,1)" text-anchor="middle">Eki</text><text transform="translate(972.9,662.8) scale(0.93,1)" text-anchor="middle">Kas</text><text transform="translate(1074.4,662.8) scale(0.93,1)" text-anchor="middle">Ara</text><text transform="translate(1191.1,662.8) scale(0.93,1)" font-weight="bold" text-anchor="middle">2026</text><text transform="translate(1302.7,662.8) scale(0.93,1)" text-anchor="middle">Şub</text><text transform="translate(1404.1,662.8) scale(0.93,1)" text-anchor="middle">Mar</text><g clip-path="url(#paneclip)"><text transform="translate(1515.7,662.8) scale(0.93,1)" text-anchor="middle">Nis</text></g></g>
<g fill="#131722"><rect x="13.9" y="698.7" width="13.3" height="5.9"/><rect x="20.9" y="698.7" width="6.3" height="16.2"/><circle cx="33" cy="701.7" r="3.1"/><polygon points="40,698.7 47.1,698.7 40.9,714.9 33.3,714.9"/></g>
<text x="55.5" y="715" font-family='"Liberation Sans", "DejaVu Sans", sans-serif' font-weight="bold" font-size="23.6" fill="#131722" textLength="134.8" lengthAdjust="spacingAndGlyphs">TradingView</text>
</svg>
</body></html>
